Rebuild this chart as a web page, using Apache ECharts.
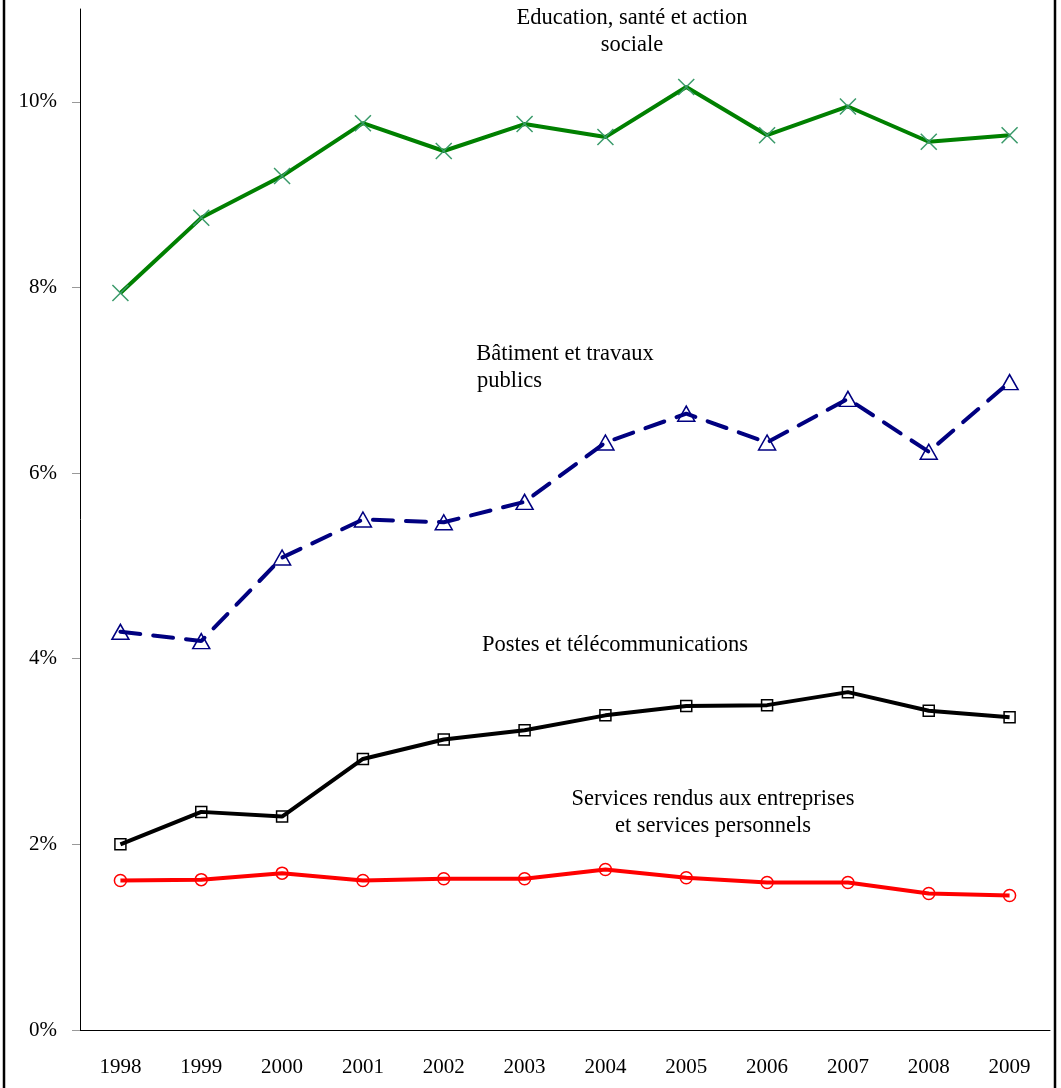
<!DOCTYPE html>
<html>
<head>
<meta charset="utf-8">
<script src="https://cdn.jsdelivr.net/npm/echarts@6/dist/echarts.min.js"></script>
<style>
  html, body { margin: 0; padding: 0; background: #fff; }
</style>
</head>
<body>
<div id="main" style="width: 1061px;height:1088px;"></div>

<script type="text/javascript">
    // années
    var years = ['1998', '1999', '2000', '2001', '2002', '2003', '2004', '2005', '2006', '2007', '2008', '2009'];

    // parts en %
    var education = [7.94, 8.75, 9.20, 9.77, 9.47, 9.76, 9.62, 10.16, 9.64, 9.95, 9.57, 9.64];
    var batiment = [4.29, 4.19, 5.09, 5.50, 5.47, 5.69, 6.33, 6.64, 6.33, 6.80, 6.23, 6.98];
    var postes = [2.00, 2.35, 2.30, 2.92, 3.13, 3.23, 3.39, 3.49, 3.50, 3.64, 3.44, 3.37];
    var services = [1.61, 1.62, 1.69, 1.61, 1.63, 1.63, 1.73, 1.64, 1.59, 1.59, 1.47, 1.45];

    var yTicks = [0, 2, 4, 6, 8, 10];

    var serif = '"Liberation Serif", "Times New Roman", serif';
    var myChart = echarts.init(document.getElementById('main'));

    // libellé posé sur le graphique
    function txt(x, y, s, align) {
        return {
            type: 'text', x: x, y: y, z: 10,
            style: {
                text: s, font: '22.5px ' + serif, fill: '#000',
                align: align || 'center', verticalAlign: 'middle'
            }
        };
    }

    var option = {
        animation: false,
        backgroundColor: '#fff',
        grid: { left: 80, right: 11, top: 9, bottom: 58 },
        xAxis: {
            type: 'category',
            data: years,
            boundaryGap: true,
            axisLine: { lineStyle: { color: '#000', width: 1 } },
            axisTick: { length: 8, lineStyle: { color: '#999' } },
            axisLabel: { color: '#000', fontFamily: serif, fontSize: 21, margin: 27 }
        },
        yAxis: {
            type: 'value',
            min: 0, max: 11, interval: 2,
            axisLine: { show: true, lineStyle: { color: '#000', width: 1 } },
            axisTick: { show: true, length: 8, lineStyle: { color: '#999' } },
            splitLine: { show: false },
            axisLabel: {
                color: '#000', fontFamily: serif, fontSize: 21, margin: 23, showMaxLabel: false,
                formatter: function (v) { return yTicks.indexOf(v) >= 0 ? v + '%' : ''; }
            }
        },
        graphic: [
            {
                type: 'rect', z: 10,
                shape: { x: 4, y: -5, width: 1051, height: 1100 },
                style: { fill: 'none', stroke: '#000', lineWidth: 2.5 }
            },
            txt(632, 18, 'Education, santé et action'),
            txt(632, 45, 'sociale'),
            txt(565, 354, 'Bâtiment et travaux'),
            txt(477, 381, 'publics', 'left'),
            txt(615, 645, 'Postes et télécommunications'),
            txt(713, 799, 'Services rendus aux entreprises'),
            txt(713, 826, 'et services personnels')
        ],
        series: [
            {
                name: 'Education, santé et action sociale',
                type: 'line',
                data: education,
                symbol: 'path://M0,0L10,10M10,0L0,10',
                symbolSize: 16,
                lineStyle: { color: '#008000', width: 4 },
                itemStyle: { color: 'rgba(0,0,0,0)', borderColor: '#3a9a6a', borderWidth: 1.5 }
            },
            {
                name: 'Bâtiment et travaux publics',
                type: 'line',
                data: batiment,
                symbol: 'triangle',
                symbolSize: [17, 15],
                lineStyle: { color: '#000080', width: 4, type: [20, 13], cap: 'round' },
                itemStyle: { color: 'rgba(0,0,0,0)', borderColor: '#000080', borderWidth: 1.5 }
            },
            {
                name: 'Postes et télécommunications',
                type: 'line',
                data: postes,
                symbol: 'rect',
                symbolSize: 11,
                lineStyle: { color: '#000', width: 4 },
                itemStyle: { color: 'rgba(0,0,0,0)', borderColor: '#000', borderWidth: 1.5 }
            },
            {
                name: 'Services rendus aux entreprises et services personnels',
                type: 'line',
                data: services,
                symbol: 'circle',
                symbolSize: 12,
                lineStyle: { color: '#ff0000', width: 4 },
                itemStyle: { color: 'rgba(0,0,0,0)', borderColor: '#ff0000', borderWidth: 1.5 }
            }
        ]
    };

    myChart.setOption(option);
</script>
</body>
</html>
